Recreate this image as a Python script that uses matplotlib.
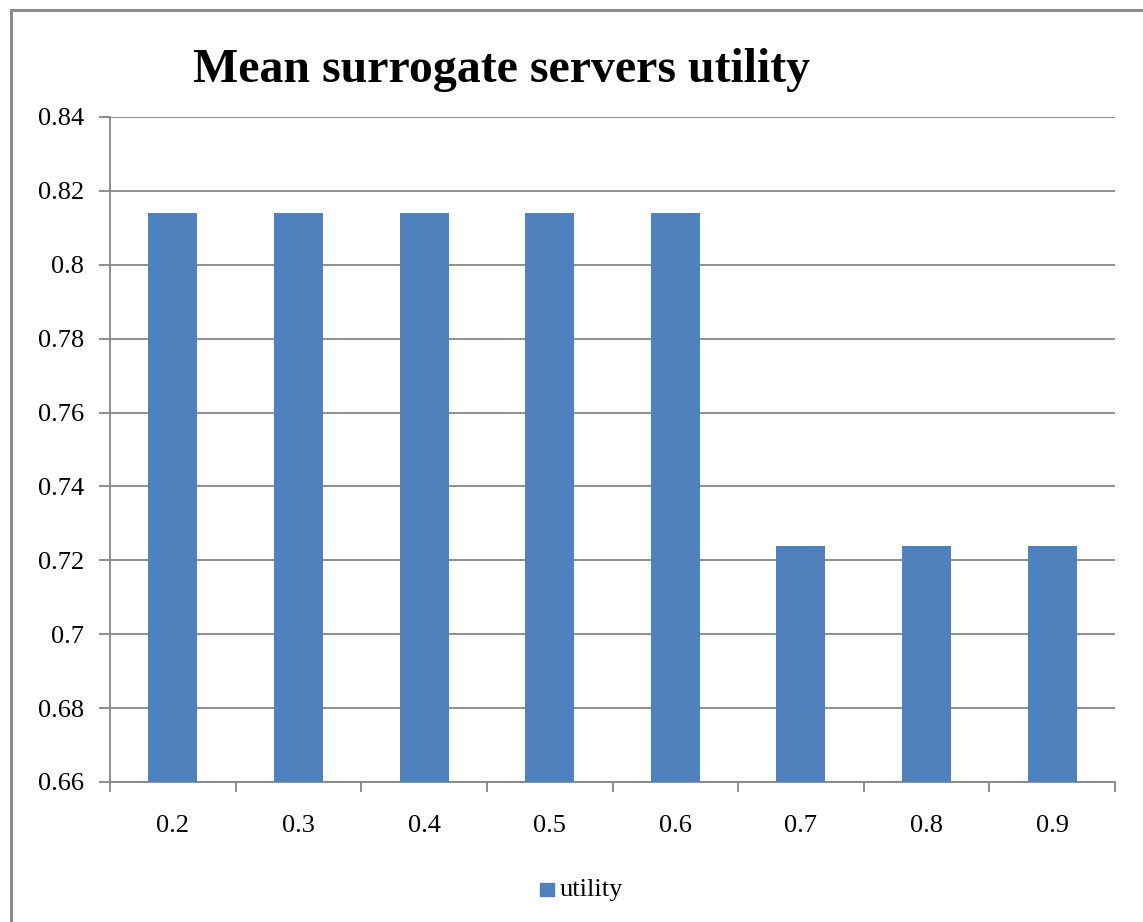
import matplotlib
matplotlib.use("Agg")
import matplotlib.pyplot as plt
from matplotlib.patches import Rectangle

# Data
categories = ["0.2", "0.3", "0.4", "0.5", "0.6", "0.7", "0.8", "0.9"]
utility = [0.814, 0.814, 0.814, 0.814, 0.814, 0.724, 0.724, 0.724]
y_ticks = [0.66, 0.68, 0.70, 0.72, 0.74, 0.76, 0.78, 0.80, 0.82, 0.84]
y_tick_labels = ["0.66", "0.68", "0.7", "0.72", "0.74", "0.76", "0.78", "0.8", "0.82", "0.84"]

plt.rcParams["font.family"] = ["Liberation Serif", "DejaVu Serif"]

W, H = 1143, 922
fig = plt.figure(figsize=(W / 100, H / 100), dpi=100)
fig.patch.set_facecolor("white")

# outer chart frame
fig.add_artist(Rectangle((10.5 / W, -0.05), 1.1, (H - 10.5) / H + 0.05,
                         transform=fig.transFigure, fill=False,
                         edgecolor="#8c8c8c", linewidth=2.2))

left, right, top, bottom = 110, 1115, 117, 782
ax = fig.add_axes([left / W, 1 - bottom / H, (right - left) / W, (bottom - top) / H])

grid_color = "#868686"
bar_color = "#4F81BD"
label_size = 19

x = list(range(len(categories)))
ax.bar(x, utility, width=0.39, color=bar_color, zorder=3)

ax.set_xlim(-0.5, len(categories) - 0.5)
ax.set_ylim(0.66, 0.84)
ax.set_yticks(y_ticks)
ax.set_yticklabels(y_tick_labels)
ax.yaxis.grid(True, color=grid_color, linewidth=1.3, zorder=0)

# x ticks sit on category boundaries, labels at category centres
ax.set_xticks([i - 0.5 for i in range(len(categories) + 1)])
ax.set_xticklabels([])
ax.set_xticks(x, minor=True)
ax.set_xticklabels(categories, minor=True)
ax.tick_params(axis="x", which="major", direction="out", length=7, width=1.3, color=grid_color)
ax.tick_params(axis="x", which="minor", length=0, pad=24, labelsize=label_size)
ax.tick_params(axis="y", direction="out", length=8, width=1.3, color=grid_color, pad=10.5,
               labelsize=label_size)

for s in ["top", "right"]:
    ax.spines[s].set_visible(False)
for s in ["left", "bottom"]:
    ax.spines[s].set_color(grid_color)
    ax.spines[s].set_linewidth(1.3)

fig.text(502 / W, 1 - 82 / H, "Mean surrogate servers utility", ha="center", va="baseline",
         fontsize=34.5, fontweight="bold")

# legend
fig.add_artist(Rectangle((540 / W, 1 - 896 / H), 13.5 / W, 13.5 / H,
                         transform=fig.transFigure, color=bar_color))
fig.text(560 / W, 1 - 896 / H, "utility", ha="left", va="baseline", fontsize=label_size)

fig.savefig("out.png", dpi=100)
